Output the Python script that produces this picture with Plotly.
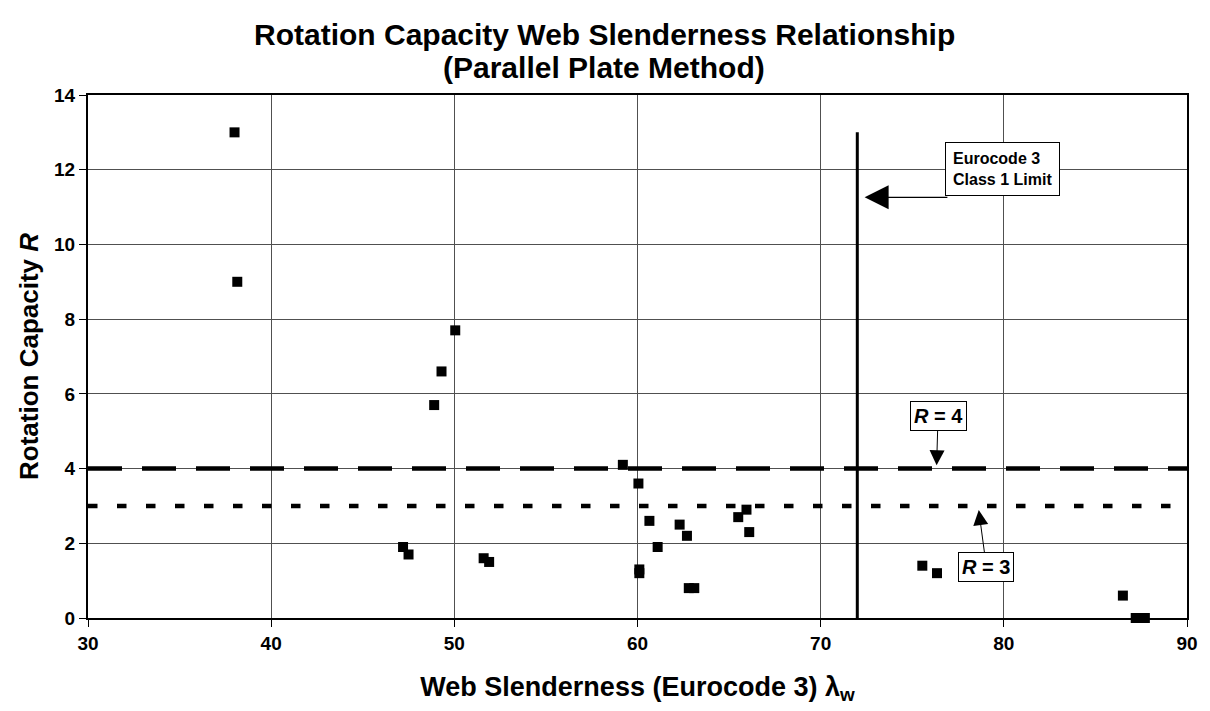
import plotly.graph_objects as go

# Test results: web slenderness vs rotation capacity
slenderness = [38.0, 38.15, 50.05, 49.3, 48.9, 47.2, 47.5, 51.6, 51.9,
               59.2, 60.05, 60.65, 62.3, 62.7, 61.1, 60.1, 60.1, 62.8, 63.1,
               65.5, 65.95, 66.1, 75.55, 76.35, 86.5, 87.2, 87.7]
rotation_capacity = [13.0, 9.0, 7.7, 6.6, 5.7, 1.9, 1.7, 1.6, 1.5,
                     4.1, 3.6, 2.6, 2.5, 2.2, 1.9, 1.3, 1.2, 0.8, 0.8,
                     2.7, 2.9, 2.3, 1.4, 1.2, 0.6, 0.0, 0.0]

# Reference limits
x_range = [30, 90]
y_range = [0, 14]
r_required = [4, 3]          # R = 4 and R = 3 target lines
class1_limit = 72            # Eurocode 3 class 1 web slenderness limit
class1_line_top = 13

title_lines = ["Rotation Capacity Web Slenderness Relationship",
               "(Parallel Plate Method)"]

FONT = "Arial, Liberation Sans, sans-serif"

fig = go.Figure()

# R = 4 long-dash line
fig.add_trace(go.Scatter(
    x=x_range, y=[r_required[0]] * 2, mode="lines",
    line=dict(color="black", width=4.5, dash="34px,20px"),
    hoverinfo="skip", showlegend=False))
# R = 3 short-dash line
fig.add_trace(go.Scatter(
    x=x_range, y=[r_required[1]] * 2, mode="lines",
    line=dict(color="black", width=4.5, dash="9.5px,19.5px"),
    hoverinfo="skip", showlegend=False))
# Class 1 limit vertical line
fig.add_trace(go.Scatter(
    x=[class1_limit, class1_limit], y=[0, class1_line_top], mode="lines",
    line=dict(color="black", width=3),
    hoverinfo="skip", showlegend=False))
# Test points
fig.add_trace(go.Scatter(
    x=slenderness, y=rotation_capacity, mode="markers",
    marker=dict(symbol="square", size=10, color="black",
                line=dict(width=0)),
    cliponaxis=False, showlegend=False))

axis_common = dict(
    showline=True, linecolor="black", linewidth=2, mirror=True,
    showgrid=True, gridcolor="#505050", gridwidth=1,
    ticks="outside", ticklen=7, tickcolor="black", tickwidth=1,
    zeroline=False,
    tickfont=dict(family=FONT, size=19, color="black", weight="bold"),
)

fig.update_xaxes(range=x_range, dtick=10, **axis_common,
                 title=dict(text="Web Slenderness (Eurocode 3) λ<sub>w</sub>",
                            font=dict(family=FONT, size=27, color="black",
                                      weight="bold"),
                            standoff=24))
fig.update_yaxes(range=y_range, dtick=2, **axis_common,
                 title=dict(text="Rotation Capacity <i>R</i>",
                            font=dict(family=FONT, size=26, color="black",
                                      weight="bold"),
                            standoff=8))

annot_font = dict(family=FONT, size=16, color="black", weight="bold")
r_font = dict(family=FONT, size=20, color="black", weight="bold")

# Chart title, two lines
for line_text, y_pos in zip(title_lines, [1.1148, 1.0535]):
    fig.add_annotation(x=0.4696, y=y_pos, xref="paper", yref="paper",
                       text=line_text, showarrow=False,
                       xanchor="center", yanchor="middle",
                       font=dict(family=FONT, size=30, color="black",
                                 weight="bold"))

# Eurocode 3 label box
fig.add_annotation(x=79.95, y=12.02, xref="x", yref="y",
                   text="Eurocode 3<br>Class 1 Limit", showarrow=False,
                   align="left", font=annot_font, bgcolor="white",
                   bordercolor="black", borderwidth=1, borderpad=7)
# Arrow pointing at the class 1 limit
fig.add_annotation(x=72.4, y=11.26, xref="x", yref="y",
                   ax=77.0, ay=11.26, axref="x", ayref="y",
                   text="", showarrow=True, arrowhead=2, arrowsize=4,
                   arrowwidth=1.2, arrowcolor="black")
# R = 4 label
fig.add_annotation(x=76.33, y=4.09, xref="x", yref="y",
                   ax=76.41, ay=5.42, axref="x", ayref="y",
                   text="<i>R</i> = 4", showarrow=True, arrowhead=2,
                   arrowsize=3, arrowwidth=1, arrowcolor="black",
                   font=r_font, bgcolor="white", bordercolor="black",
                   borderwidth=1, borderpad=3)
# R = 3 label
fig.add_annotation(x=78.63, y=2.89, xref="x", yref="y",
                   ax=79.05, ay=1.36, axref="x", ayref="y",
                   text="<i>R</i> = 3", showarrow=True, arrowhead=2,
                   arrowsize=3, arrowwidth=1, arrowcolor="black",
                   font=r_font, bgcolor="white", bordercolor="black",
                   borderwidth=1, borderpad=3)

fig.update_layout(
    width=1210, height=711,
    margin=dict(l=88, r=21, t=95, b=93),
    paper_bgcolor="white", plot_bgcolor="white",
)

fig.write_html("out.html")
